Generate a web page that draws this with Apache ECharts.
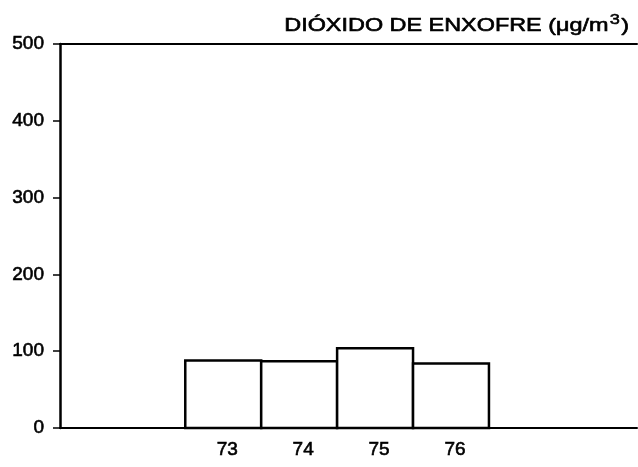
<!DOCTYPE html>
<html>
<head>
<meta charset="utf-8">
<script src="https://cdn.jsdelivr.net/npm/echarts@6/dist/echarts.min.js"></script>
<style>
html,body{margin:0;padding:0;background:#fff;}
#chart{width:638px;height:467px;}
</style>
</head>
<body>
<div id="chart"></div>
<script>
// Data
const years = [73, 74, 75, 76];
const values = [88, 87, 104, 84];
const xTickLabels = [73, 74, 75, 76];
const titleText = 'DIÓXIDO DE ENXOFRE (μg/m';
const titleSup = '3';
const titleClose = ')';

const chart = echarts.init(document.getElementById('chart'), null, {renderer: 'canvas'});
const font = '"Liberation Sans", Arial, sans-serif';

const option = {
  backgroundColor: '#fff',
  animation: false,
  graphic: [{
    type: 'text',
    x: 629,
    y: 13,
    scaleX: 1.3,
    style: {
      text: '{m|' + titleText + '}{sup|' + titleSup + '}{m|' + titleClose + '}',
      fontFamily: font,
      fontSize: 18,
      fill: '#000',
      align: 'right',
      verticalAlign: 'top',
      rich: {
        m: {fontFamily: font, fontSize: 18, fill: '#000', stroke: '#000', lineWidth: 0.6, lineHeight: 22, verticalAlign: 'bottom'},
        sup: {fontFamily: font, fontSize: 14, fill: '#000', stroke: '#000', lineWidth: 0.5, lineHeight: 14, verticalAlign: 'top', padding: [0, 1, 0, 1]}
      }
    }
  }],
  grid: {left: 60, right: 1, top: 44, bottom: 39, containLabel: false},
  xAxis: [
    {
      type: 'value',
      min: 70.85,
      max: 78.45,
      position: 'bottom',
      splitLine: {show: false},
      axisLine: {show: true, lineStyle: {color: '#000', width: 2}},
      axisTick: {show: false},
      axisLabel: {
        customValues: xTickLabels,
        formatter: v => String(Math.round(v)),
        fontFamily: font,
        fontSize: 19,
        color: '#000',
        textBorderColor: '#000',
        textBorderWidth: 0.6,
        margin: 12,
        padding: [0, 0, 0, 8]
      }
    },
    {
      type: 'value',
      min: 70.85,
      max: 78.45,
      position: 'top',
      splitLine: {show: false},
      axisLine: {show: true, lineStyle: {color: '#000', width: 2}},
      axisTick: {show: false},
      axisLabel: {show: false}
    }
  ],
  yAxis: {
    type: 'value',
    min: 0,
    max: 500,
    interval: 100,
    splitLine: {show: false},
    axisLine: {show: true, onZero: false, lineStyle: {color: '#000', width: 2.5}},
    axisTick: {show: true, inside: false, length: 7, lineStyle: {color: '#000', width: 1.5}},
    axisLabel: {fontFamily: font, fontSize: 19, color: '#000', textBorderColor: '#000', textBorderWidth: 0.6, margin: 16}
  },
  series: [{
    type: 'custom',
    xAxisIndex: 0,
    data: years.map((y, i) => [y, values[i]]),
    renderItem: function (params, api) {
      const x = api.value(0);
      const v = api.value(1);
      const p1 = api.coord([x - 0.5, v]);
      const p2 = api.coord([x + 0.5, 0]);
      return {
        type: 'rect',
        shape: {x: p1[0], y: p1[1], width: p2[0] - p1[0], height: p2[1] - p1[1]},
        style: {fill: '#fff', stroke: '#000', lineWidth: 2.5}
      };
    }
  }]
};
chart.setOption(option);
</script>
</body>
</html>
